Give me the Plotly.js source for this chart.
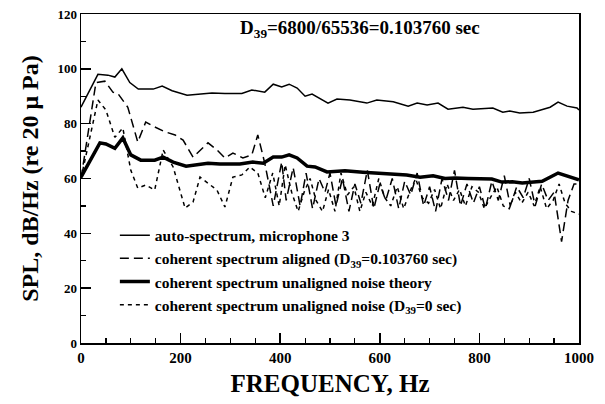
<!DOCTYPE html>
<html>
<head>
<meta charset="utf-8">
<script src="https://cdn.plot.ly/plotly-3.0.1.min.js"></script>
<style>
  html, body { margin: 0; padding: 0; background: #fff; }
  #chart { width: 605px; height: 404px; }
</style>
</head>
<body>
<div id="chart"></div>
<script>
// Auto-spectrum of microphone 3
const autoFreq = [0, 34, 54, 68, 82, 98, 115, 145, 163, 183, 213, 243, 263, 289, 323, 343, 369, 386, 403, 418, 434, 450, 464, 496, 514, 540, 574, 594, 627, 657, 675, 695, 717, 737, 767, 787, 827, 847, 861, 881, 908, 942, 958, 976, 996, 1000];
const autoSpl  = [86, 98, 97.7, 97, 100, 95, 92.6, 92.6, 93.7, 92, 90.4, 91, 91.2, 91, 91, 92.3, 91.5, 94.4, 93.4, 94.4, 93, 90, 90.8, 87.5, 89, 88.6, 87.5, 88.6, 88, 86.4, 87.5, 86.8, 87.5, 85.3, 86, 85.3, 85.7, 84.2, 84.6, 83.9, 84.2, 86, 87.9, 86.4, 85.7, 85];

// Coherent spectrum, aligned
const alignedFreq = [0, 30, 48, 64, 74, 94, 114, 130, 148, 169, 189, 205, 225, 249, 255, 273, 289, 305, 325, 343, 355, 369, 386, 403, 412, 426, 440, 452, 465, 478, 490, 500, 512, 525, 538, 550, 562, 575, 588, 600, 612, 625, 638, 650, 662, 675, 688, 700, 712, 725, 738, 750, 762, 775, 788, 800, 812, 825, 838, 850, 862, 875, 888, 900, 912, 925, 938, 950, 965, 978, 990, 1000];
const alignedSpl  = [60, 95, 95.5, 91.5, 91, 86, 73.3, 80.6, 78.8, 77, 75.9, 74, 67.8, 72.2, 73, 70.4, 67.5, 69.3, 67.5, 68.6, 75.9, 65.6, 50, 66, 52, 64, 50, 62, 49, 60, 55, 62, 50, 60, 48, 58, 51, 63, 49, 58, 52, 60, 49, 59, 54, 62, 50, 57, 48, 60, 52, 63, 50, 58, 51, 57, 49, 59, 52, 61, 50, 57, 53, 60, 50, 58, 52, 55, 37, 52, 58, 58];

// Coherent spectrum, unaligned noise theory
const theoryFreq = [0, 38, 50, 68, 84, 100, 120, 148, 165, 185, 211, 235, 255, 279, 319, 345, 366, 386, 403, 418, 434, 454, 470, 494, 530, 566, 600, 654, 681, 707, 731, 751, 777, 800, 825, 845, 866, 886, 926, 958, 982, 1000];
const theorySpl  = [60.5, 73, 72.6, 71, 74.8, 68.6, 66.7, 66.7, 67.8, 66, 64.5, 65, 65.6, 65.3, 65.3, 66, 65.6, 67.8, 67.8, 68.6, 67.5, 64.5, 64.2, 62.4, 62.8, 62.3, 62, 61.3, 60.5, 61, 60, 60.2, 60, 59.8, 59.8, 58.7, 58.8, 58.4, 59, 62, 60.5, 59.5];

// Coherent spectrum, unaligned noise (D39 = 0)
const noiseFreq = [0, 34, 50, 68, 84, 100, 114, 130, 148, 165, 185, 209, 225, 239, 273, 289, 305, 323, 339, 355, 370, 385, 398, 410, 423, 436, 448, 460, 472, 485, 497, 510, 522, 535, 548, 560, 572, 585, 598, 610, 622, 635, 648, 660, 672, 685, 698, 710, 722, 735, 748, 760, 772, 785, 798, 810, 822, 835, 848, 860, 872, 885, 898, 910, 922, 935, 948, 960, 972, 985, 1000];
const noiseSpl  = [60, 88.6, 85, 75, 78.4, 63, 56.5, 57.6, 55.8, 70.4, 64.2, 49.2, 51.4, 60.5, 55.8, 49.6, 60.5, 61.3, 64.2, 62, 53, 62, 50, 65, 55, 48, 55, 60, 52, 48, 56, 48, 62, 54, 57, 48, 55, 50, 60, 53, 50, 57, 49, 55, 60, 53, 51, 56, 49, 58, 52, 56, 50, 57, 55, 49, 53, 57, 50, 49, 55, 51, 55, 50, 57, 49, 52, 58, 51, 48, 47];

const serif = 'Liberation Serif, Times New Roman, serif';

const traces = [
  { x: autoFreq, y: autoSpl, mode: 'lines', name: 'auto-spectrum, microphone 3',
    line: { color: '#000', width: 1.5 } },
  { x: alignedFreq, y: alignedSpl, mode: 'lines', name: 'coherent spectrum aligned (D<sub>39</sub>=0.103760 sec)',
    line: { color: '#000', width: 1.5, dash: '9px,5px' } },
  { x: theoryFreq, y: theorySpl, mode: 'lines', name: 'coherent spectrum unaligned noise theory',
    line: { color: '#000', width: 3.5 } },
  { x: noiseFreq, y: noiseSpl, mode: 'lines', name: 'coherent spectrum unaligned noise (D<sub>39</sub>=0 sec)',
    line: { color: '#000', width: 1.5, dash: '4px,4px' } }
];

const layout = {
  width: 605, height: 404,
  margin: { l: 81, r: 26, t: 14, b: 61 },
  paper_bgcolor: '#fff', plot_bgcolor: '#fff',
  font: { family: serif, color: '#000', size: 14, weight: 'bold' },
  showlegend: true,
  legend: {
    x: 0.068, y: 0.378, xanchor: 'left', yanchor: 'top',
    bgcolor: 'rgba(0,0,0,0)', borderwidth: 0,
    font: { family: serif, size: 15.5, weight: 'bold' },
    tracegroupgap: 0
  },
  xaxis: {
    range: [0, 1000], dtick: 200, tick0: 0,
    showgrid: false, zeroline: false,
    showline: true, linecolor: '#000', linewidth: 1.5, mirror: true,
    ticks: 'inside', ticklen: 10, tickwidth: 1.5, tickcolor: '#000',
    minor: { dtick: 50, ticks: 'inside', ticklen: 5, tickwidth: 1.2, tickcolor: '#000', showgrid: false },
    tickfont: { family: serif, size: 15, weight: 'bold' },
    title: { text: 'FREQUENCY, Hz', font: { family: serif, size: 25, weight: 'bold' }, standoff: 10 }
  },
  yaxis: {
    range: [0, 120], dtick: 20, tick0: 0,
    showgrid: false, zeroline: false,
    showline: true, linecolor: '#000', linewidth: 1.5, mirror: true,
    ticks: 'inside', ticklen: 10, tickwidth: 1.5, tickcolor: '#000',
    minor: { dtick: 10, ticks: 'inside', ticklen: 5, tickwidth: 1.2, tickcolor: '#000', showgrid: false },
    tickfont: { family: serif, size: 13, weight: 'bold' },
    title: { text: 'SPL, dB/Hz (re 20 \u03bc Pa)', font: { family: serif, size: 24, weight: 'bold' }, standoff: 12 }
  },
  annotations: [
    { xref: 'paper', yref: 'paper', x: 0.56, y: 0.955, xanchor: 'center', yanchor: 'middle',
      showarrow: false, text: 'D<sub>39</sub>=6800/65536=0.103760 sec',
      font: { family: serif, size: 19, weight: 'bold' } }
  ]
};

Plotly.newPlot('chart', traces, layout, { displayModeBar: false, staticPlot: true });
</script>
</body>
</html>
